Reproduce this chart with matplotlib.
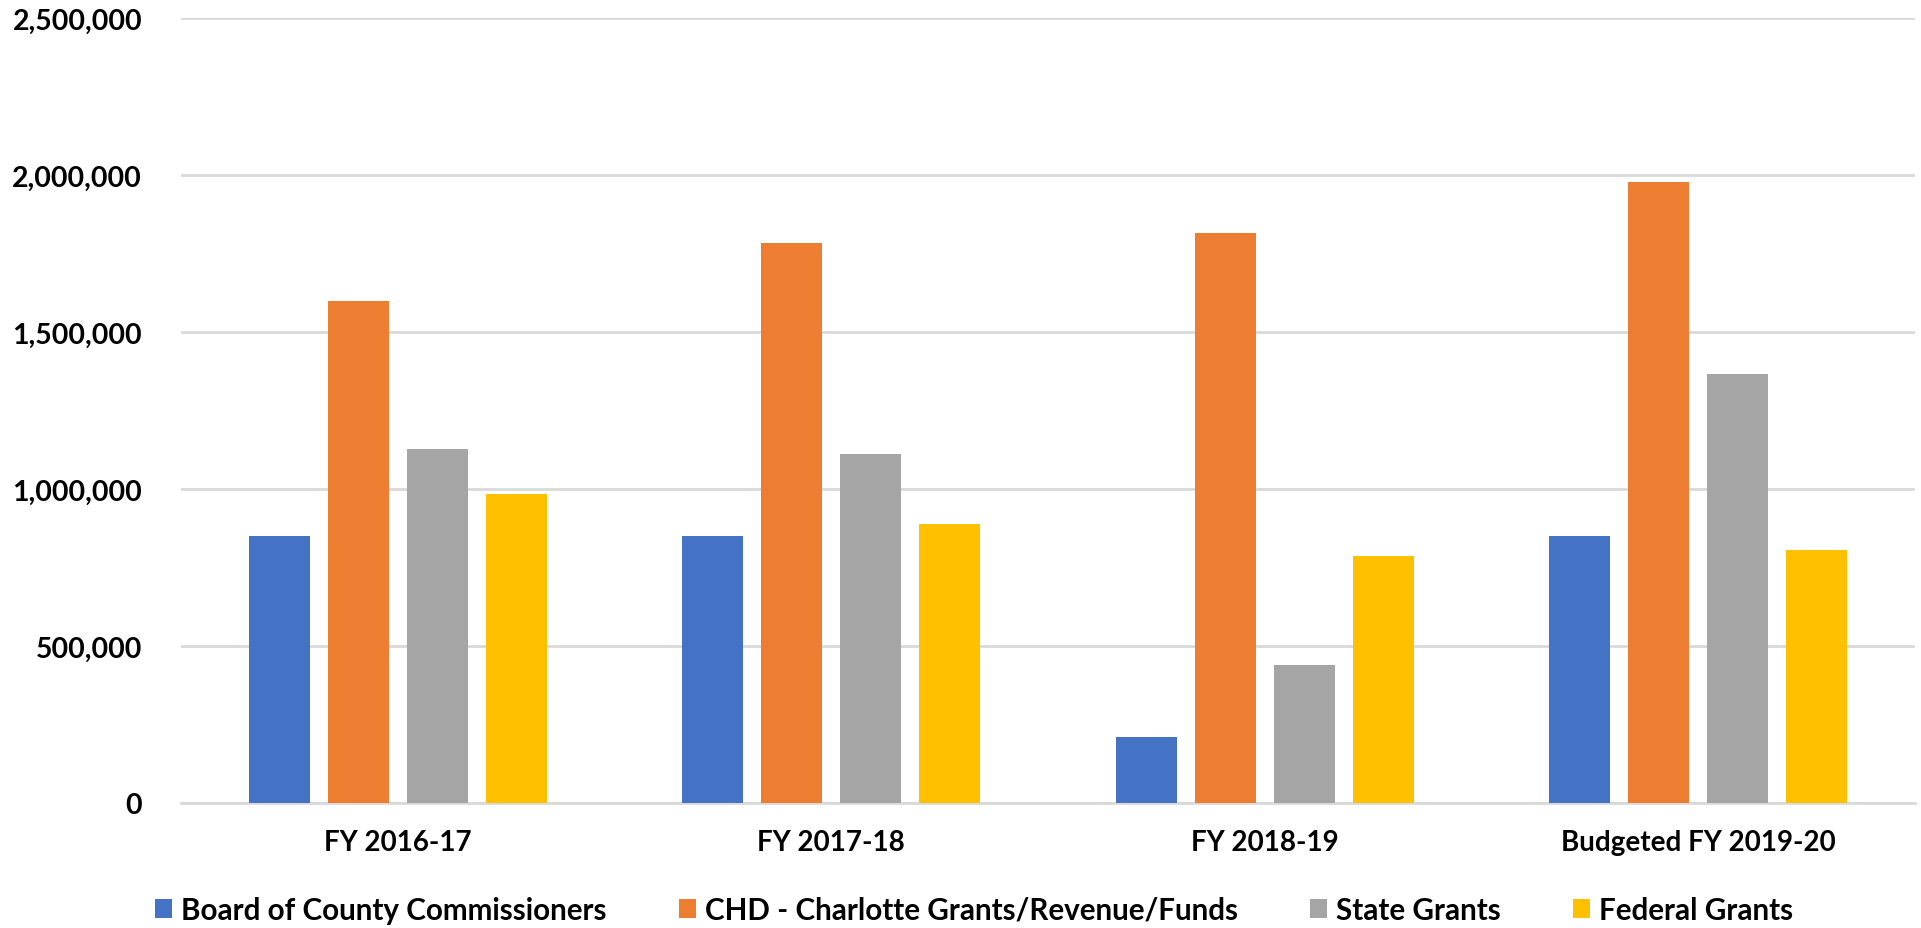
import matplotlib
matplotlib.use("Agg")
import matplotlib.pyplot as plt
import numpy as np
from matplotlib.ticker import FuncFormatter

# values
categories = ['FY 2016-17', 'FY 2017-18', 'FY 2018-19', 'Budgeted FY 2019-20']
series_names = ['Board of County Commissioners', 'CHD - Charlotte Grants/Revenue/Funds',
                'State Grants', 'Federal Grants']
board = [851000, 851000, 211000, 851000]
chd = [1599000, 1784000, 1815000, 1977000]
state = [1126000, 1113000, 441000, 1366000]
federal = [984000, 887000, 786000, 806000]
colors = ['#4472C4', '#ED7D31', '#A5A5A5', '#FFC000']

plt.rcParams['font.family'] = ['Lato', 'DejaVu Sans']
plt.rcParams['font.weight'] = 'bold'

W, H = 1921, 929
fig = plt.figure(figsize=(W / 100, H / 100), dpi=100)
ax = fig.add_axes([181 / W, 1 - 804 / H, (1915 - 181) / W, (804 - 19) / H])

x = np.arange(len(categories))
step = 0.182
width = 0.141
bars = []
for i, vals in enumerate([board, chd, state, federal]):
    b = ax.bar(x + (i - 1.5) * step, vals, width, color=colors[i], zorder=3)
    bars.append(b)

ax.set_xlim(-0.5, 3.5)
ax.set_ylim(0, 2500000)
ax.set_yticks(np.arange(0, 2500001, 500000))
ax.yaxis.set_major_formatter(FuncFormatter(lambda v, p: f'{int(v):,}'))
ax.yaxis.grid(True, color='#d9d9d9', linewidth=2)
ax.set_axisbelow(True)

for s in ['left', 'right', 'top']:
    ax.spines[s].set_visible(False)
ax.spines['bottom'].set_color('#d9d9d9')
ax.spines['bottom'].set_linewidth(2)

ax.set_xticks(x)
ax.set_xticklabels(categories, fontsize=20, fontweight='bold')
ax.tick_params(axis='x', length=0, pad=19)
ax.tick_params(axis='y', length=0, pad=28, labelsize=20.5)
for lab in ax.get_yticklabels():
    lab.set_fontweight('bold')

fs = 21.3
fig.legend(bars, series_names, loc='center', ncol=4,
           bbox_to_anchor=(974 / W, 1 - 911 / H), frameon=False,
           prop={'weight': 'bold', 'size': fs},
           handlelength=0.58, handleheight=0.58, handletextpad=0.3,
           columnspacing=2.45, borderaxespad=0, borderpad=0)

fig.savefig('out.png', dpi=100)
